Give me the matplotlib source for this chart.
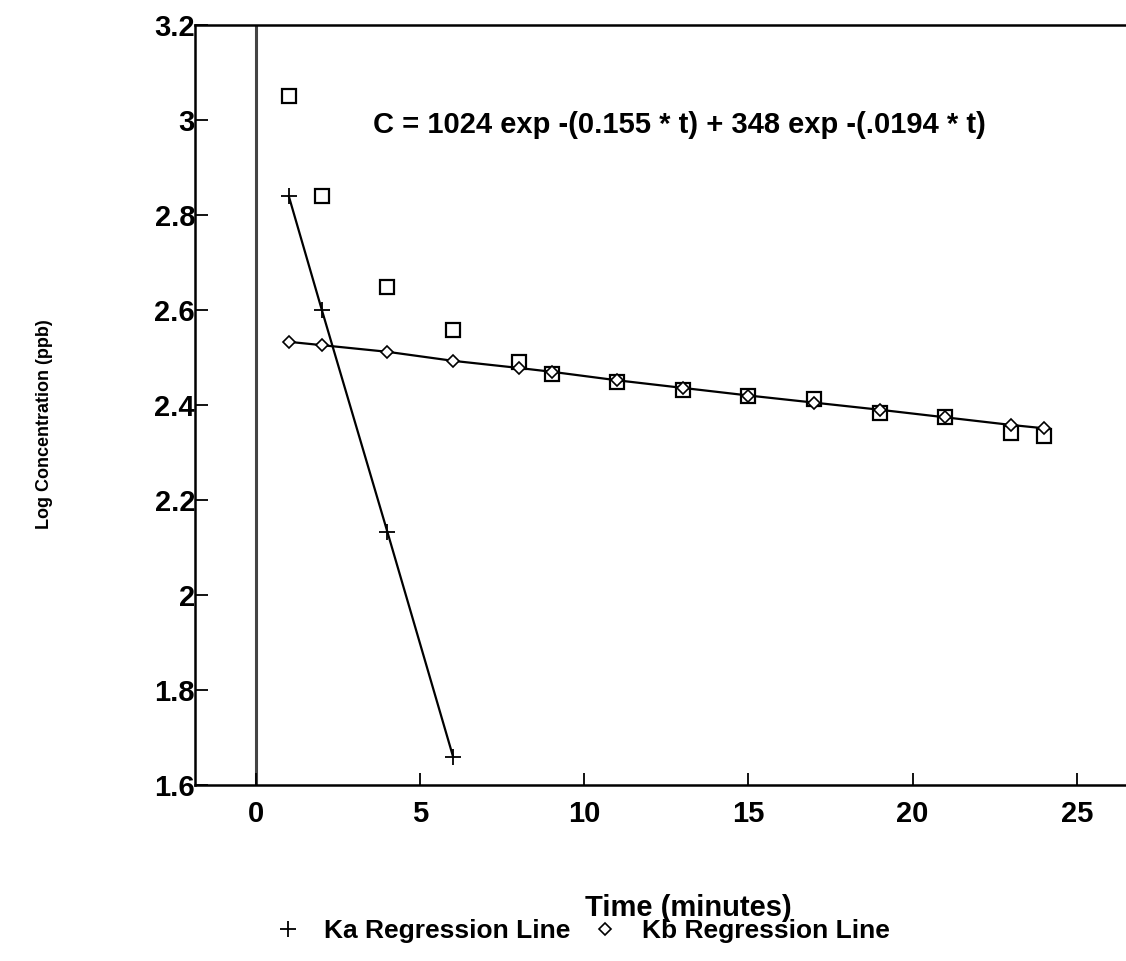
import matplotlib
matplotlib.use("Agg")
from matplotlib import pyplot as plt
from matplotlib.lines import Line2D

# observed log concentrations (squares)
time_obs = [1, 2, 4, 6, 8, 9, 11, 13, 15, 17, 19, 21, 23, 24]
log_obs = [3.05, 2.84, 2.649, 2.558, 2.49, 2.465, 2.448, 2.432, 2.419, 2.412,
           2.384, 2.375, 2.342, 2.335]

# Ka regression line (crosses)
time_ka = [1, 2, 4, 6]
log_ka = [2.839, 2.601, 2.133, 1.66]

# Kb regression line (diamonds)
time_kb = [1, 2, 4, 6, 8, 9, 11, 13, 15, 17, 19, 21, 23, 24]
log_kb = [2.533, 2.526, 2.512, 2.493, 2.478, 2.47, 2.452, 2.436, 2.42, 2.405,
          2.39, 2.374, 2.358, 2.351]

x_ticks = [0, 5, 10, 15, 20, 25]
y_ticks = [1.6, 1.8, 2.0, 2.2, 2.4, 2.6, 2.8, 3.0, 3.2]
y_tick_labels = ["1.6", "1.8", "2", "2.2", "2.4", "2.6", "2.8", "3", "3.2"]

equation = "C = 1024 exp -(0.155 * t) + 348 exp -(.0194 * t)"


def main():
	plt.rcParams['font.family'] = ['Liberation Sans', 'DejaVu Sans']
	plt.rcParams['font.weight'] = 'bold'
	plt.rcParams['axes.labelweight'] = 'bold'

	fig = plt.figure(figsize=(11.26, 9.61), dpi=100)
	ax = fig.add_axes([195 / 1126, 1 - 785 / 961, 1 - 195 / 1126, (785 - 25) / 961])

	ax.axvline(0, color="#444444", lw=2.2, zorder=1)

	ax.plot(time_obs, log_obs, linestyle="none", marker="s", ms=10.5,
			mfc="none", mec="black", mew=1.6, zorder=3)
	ax.plot(time_ka, log_ka, color="black", lw=1.6, marker="+", ms=12,
			mew=1.3, zorder=2)
	ax.plot(time_kb, log_kb, color="black", lw=1.6, marker="D", ms=6,
			mfc="white", mec="black", mew=1.2, zorder=4)

	ax.text(3.55, 2.99, equation, fontsize=21, ha="left", va="center")

	ax.set_xlim(-1.86, 26.5)
	ax.set_ylim(1.6, 3.2)
	ax.set_xticks(x_ticks)
	ax.set_yticks(y_ticks)
	ax.set_yticklabels(y_tick_labels)
	ax.tick_params(direction="in", length=9, width=1.3, labelsize=21)
	ax.tick_params(axis="x", pad=11)
	ax.tick_params(axis="y", pad=0)
	ax.spines["right"].set_visible(False)
	for s in ["left", "bottom", "top"]:
		ax.spines[s].set_linewidth(1.8)

	ax.set_xlabel("Time (minutes)", fontsize=21)
	ax.xaxis.set_label_coords(0.53, -0.144)
	ax.set_ylabel("Log Concentration (ppb)", fontsize=13)
	ax.yaxis.set_label_coords(-0.152, 0.475)

	handles = [
		Line2D([], [], linestyle="none", marker="+", ms=11, mew=1.3, color="black"),
		Line2D([], [], linestyle="none", marker="D", ms=6, mfc="white",
			   mec="black", mew=1.2),
	]
	fig.legend(handles, ["Ka Regression Line", "Kb Regression Line"],
			   loc="center", bbox_to_anchor=(0.517, 0.031), ncol=2,
			   frameon=False, fontsize=19, handlelength=1.0,
			   handletextpad=0.9, columnspacing=0.8)

	fig.savefig("out.png", dpi=100)


if __name__ == '__main__':
	main()
